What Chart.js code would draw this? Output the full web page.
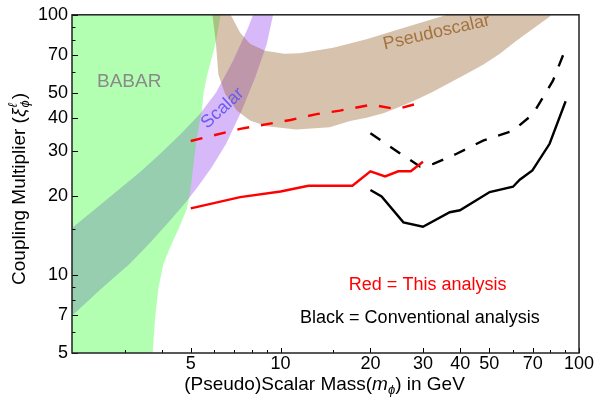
<!DOCTYPE html>
<html>
<head>
<meta charset="utf-8">
<script src="https://cdn.jsdelivr.net/npm/chart.js@4/dist/chart.umd.min.js"></script>
<style>
  html, body { margin: 0; padding: 0; background: #ffffff; }
  #wrap { width: 599px; height: 407px; }
</style>
</head>
<body>
<div id="wrap"><canvas id="c" width="599" height="407"></canvas></div>
<script>
// Limits on the coupling multiplier versus (pseudo)scalar mass in GeV.

// Red = this analysis
const redSolidMass = [5, 7.32, 10, 12.4, 17.4, 20, 22.4, 24.8, 27.3, 30];
const redSolidXi   = [18.0, 19.9, 20.9, 22.0, 22.0, 25.0, 23.9, 25.0, 25.0, 27.2];
const redDashMass  = [5, 7.32, 10.8, 13.2, 15.8, 20.2, 24.5, 30];
const redDashXi    = [32.7, 36.4, 39.4, 41.5, 42.8, 45.1, 43.3, 46.2];

// Black = conventional analysis
const blackSolidMass = [20, 21.8, 25.8, 30, 36.9, 39.9, 50.2, 60.1, 63.3, 69.8, 79.7, 90.2];
const blackSolidXi   = [21.2, 20.0, 15.9, 15.3, 17.4, 17.7, 20.8, 21.8, 23.2, 25.2, 31.9, 46.5];
const blackDashMass  = [20, 24.8, 29.3, 32.5, 38.9, 47.7, 60.1, 70.1, 81.8, 90.7];
const blackDashXi    = [35.0, 29.6, 26.1, 26.7, 29.2, 32.8, 35.8, 41.5, 55.8, 75.3];

// BABAR excluded region (outline, clockwise)
const babarMass = [1.5, 6.51, 6.30, 6.06, 5.67, 5.51, 5.45, 5.24, 5.11, 4.98, 4.85, 4.55, 4.27, 4.05, 3.90, 3.80, 3.73, 3.71, 1.5];
const babarXi   = [130, 123.6, 100, 78.1, 58.3, 49.6, 42.8, 33.8, 26.7, 20.8, 17.9, 15.0, 12.8, 11.0, 8.96, 6.87, 5.04, 4.48, 4];

// Scalar band (upper-left edge up, lower-right edge down)
const scalarMass = [1.8, 2.49, 3.39, 3.95, 4.61, 5.38, 6.08, 6.93, 7.78, 8.09, 8.67,
                    9.83, 9.44, 8.99, 8.22, 7.41, 6.57, 5.88, 5.31, 4.83, 4.27, 3.66, 3.13, 2.49, 1.99, 1.8];
const scalarXi   = [13.7, 18.6, 24.9, 29.2, 34.6, 41.7, 50.2, 66.6, 89.1, 100, 123.6,
                    123.6, 100, 77.2, 57.4, 42.8, 31.9, 25.9, 22.0, 19.1, 16.2, 13.3, 11.05, 8.78, 6.92, 6.24];

// Pseudoscalar band (outer edge left to right, inner edge back)
const pseudoMass = [5.78, 5.91, 6.07, 6.19, 6.52, 7.13, 7.90, 8.99, 11.3, 14.6, 17.1, 19.4, 22.1, 25.1, 28.6,
                    32.4, 36.9, 42.0, 47.7, 54.3, 61.7, 70.1, 79.7, 83.5, 89.5,
                    46.5, 39.9, 36.1, 32.4, 25.1, 19.4, 15.0, 11.6, 10.3, 8.87, 7.90, 7.32, 6.80, 6.65];
const pseudoXi   = [123.6, 100, 78.1, 58.8, 49.6, 42.8, 39.2, 37.3, 36.2, 36.9, 39.0, 40.2, 41.8, 44.3, 47.2,
                    50.6, 54.8, 59.3, 64.3, 70.8, 79.5, 88.4, 98.2, 105.4, 117.3,
                    109.2, 104.5, 100, 96.3, 88.1, 80.5, 74.7, 71.1, 70.8, 72.7, 77.4, 85.3, 100, 113.2];

// Axis ticks
const xTicks  = [3, 4, 5, 6, 7, 8, 9, 10, 15, 20, 30, 40, 50, 60, 70, 80, 90, 100];
const xLabels = [5, 10, 20, 30, 40, 50, 70, 100];
const yTicks  = [5, 6, 7, 8, 9, 10, 15, 20, 30, 40, 50, 60, 70, 80, 90, 100];
const yLabels = [5, 7, 10, 20, 30, 40, 50, 70, 100];

const FONT = '"Liberation Sans", Arial, Helvetica, sans-serif';

function pts(xs, ys) { return xs.map((x, i) => ({ x: x, y: ys[i] })); }

function curve(label, xs, ys, color, dash, order) {
  return {
    label: label, data: pts(xs, ys), showLine: true, fill: false,
    borderColor: color, borderWidth: 2.4, borderDash: dash, borderCapStyle: 'butt',
    pointRadius: 0, tension: 0, order: order
  };
}

function region(label, xs, ys, color, order) {
  return {
    label: label, data: pts(xs, ys), showLine: true, fill: 'shape',
    borderColor: 'rgba(0,0,0,0)', borderWidth: 0, backgroundColor: color,
    pointRadius: 0, tension: 0, order: order
  };
}

// draws a run of text pieces; a piece with 'stack' puts a superscript over a subscript
function richLine(ctx, pieces, cx, baseY) {
  let total = 0;
  pieces.forEach(p => {
    if (p.stack) {
      ctx.font = p.stack[0].f; const w1 = ctx.measureText(p.stack[0].t).width;
      ctx.font = p.stack[1].f; const w2 = ctx.measureText(p.stack[1].t).width;
      p.w = Math.max(w1, w2);
    } else {
      ctx.font = p.f; p.w = ctx.measureText(p.t).width;
    }
    total += p.w + (p.pad || 0);
  });
  let x = cx - total / 2;
  pieces.forEach(p => {
    if (p.stack) {
      p.stack.forEach(s => { ctx.font = s.f; ctx.fillText(s.t, x + (p.pad || 0), baseY + s.dy); });
    } else {
      ctx.font = p.f; ctx.fillText(p.t, x + (p.pad || 0), baseY + (p.dy || 0));
    }
    x += p.w + (p.pad || 0);
  });
}

const framePlugin = {
  id: 'frame',
  afterDatasetsDraw(chart) {
    const ctx = chart.ctx, a = chart.chartArea;
    const xs = chart.scales.x, ys = chart.scales.y;
    ctx.save();

    // inward tick marks
    ctx.strokeStyle = '#000'; ctx.lineWidth = 1;
    xTicks.forEach(v => {
      const px = Math.round(xs.getPixelForValue(v)) + 0.5;
      const len = xLabels.includes(v) ? 5 : 3;
      ctx.beginPath(); ctx.moveTo(px, a.bottom); ctx.lineTo(px, a.bottom - len); ctx.stroke();
    });
    yTicks.forEach(v => {
      const py = Math.round(ys.getPixelForValue(v)) + 0.5;
      const len = yLabels.includes(v) ? 6 : 3.5;
      ctx.beginPath(); ctx.moveTo(a.left, py); ctx.lineTo(a.left + len, py); ctx.stroke();
    });

    // frame
    ctx.strokeStyle = '#222'; ctx.lineWidth = 1.5;
    ctx.strokeRect(a.left, a.top, a.right - a.left, a.bottom - a.top);

    // region and curve labels
    ctx.textAlign = 'center'; ctx.textBaseline = 'middle';
    ctx.fillStyle = '#8a8a8a'; ctx.font = '19px ' + FONT;
    ctx.fillText('BABAR', xs.getPixelForValue(3.11), ys.getPixelForValue(55.3));

    ctx.save();
    ctx.translate(xs.getPixelForValue(6.39), ys.getPixelForValue(43.7));
    ctx.rotate(-43 * Math.PI / 180);
    ctx.fillStyle = '#6a5cf0'; ctx.font = '18px ' + FONT;
    ctx.fillText('Scalar', 0, 0);
    ctx.restore();

    ctx.save();
    ctx.translate(xs.getPixelForValue(33.3), ys.getPixelForValue(85.5));
    ctx.rotate(-13 * Math.PI / 180);
    ctx.fillStyle = '#a4733f'; ctx.font = '18px ' + FONT;
    ctx.fillText('Pseudoscalar', 0, 0);
    ctx.restore();

    ctx.font = '18px ' + FONT;
    ctx.fillStyle = '#ff0000';
    ctx.fillText('Red = This analysis', xs.getPixelForValue(31.1), ys.getPixelForValue(9.1));
    ctx.fillStyle = '#000000';
    ctx.fillText('Black = Conventional analysis', xs.getPixelForValue(29.3), ys.getPixelForValue(6.79));

    // axis titles
    ctx.textAlign = 'left'; ctx.textBaseline = 'alphabetic';
    ctx.fillStyle = '#000';
    const reg = '19px ' + FONT, ital = 'italic 19px ' + FONT, small = 'italic 13px ' + FONT;
    richLine(ctx, [
      { t: '(Pseudo)Scalar Mass(', f: reg },
      { t: 'm', f: ital },
      { t: '\u03D5', f: small, dy: 4 },
      { t: ') in GeV', f: reg }
    ], (a.left + a.right) / 2 - 1, 390);

    ctx.save();
    ctx.translate(25, 189);
    ctx.rotate(-Math.PI / 2);
    richLine(ctx, [
      { t: 'Coupling Multiplier (', f: reg },
      { t: '\u03BE', f: ital },
      { stack: [{ t: '\u2113', f: small, dy: -8 }, { t: '\u03D5', f: small, dy: 4 }], pad: 1 },
      { t: ')', f: reg, pad: 1 }
    ], 0, 0);
    ctx.restore();

    ctx.restore();
  }
};

new Chart(document.getElementById('c'), {
  type: 'scatter',
  data: {
    datasets: [
      curve('This analysis (solid)', redSolidMass, redSolidXi, '#ff0000', [], 0),
      curve('This analysis (dashed)', redDashMass, redDashXi, '#ff0000', [12, 12], 1),
      curve('Conventional (solid)', blackSolidMass, blackSolidXi, '#000000', [], 2),
      curve('Conventional (dashed)', blackDashMass, blackDashXi, '#000000', [12, 12], 3),
      region('Pseudoscalar', pseudoMass, pseudoXi, 'rgba(153,102,51,0.4)', 5),
      region('BABAR', babarMass, babarXi, 'rgba(0,255,0,0.3)', 6),
      region('Scalar', scalarMass, scalarXi, 'rgba(122,22,238,0.3)', 7)
    ]
  },
  options: {
    responsive: false,
    animation: false,
    devicePixelRatio: 1,
    layout: { padding: { left: 0, right: 20, top: 14, bottom: 0 } },
    plugins: { legend: { display: false }, tooltip: { enabled: false } },
    scales: {
      x: {
        type: 'logarithmic', position: 'bottom', min: 2, max: 100,
        afterBuildTicks: s => { s.ticks = xTicks.map(v => ({ value: v })); },
        afterFit: s => { s.height = 54; },
        grid: { display: false, drawTicks: false },
        border: { display: false },
        ticks: {
          autoSkip: false, maxRotation: 0, padding: 0, color: '#000',
          font: { family: FONT, size: 18 },
          callback: v => xLabels.includes(v) ? String(v) : ''
        }
      },
      y: {
        type: 'logarithmic', position: 'left', min: 5, max: 100,
        afterBuildTicks: s => { s.ticks = yTicks.map(v => ({ value: v })); },
        afterFit: s => { s.width = 72; },
        grid: { display: false, drawTicks: false },
        border: { display: false },
        ticks: {
          autoSkip: false, padding: 4, color: '#000',
          font: { family: FONT, size: 18 },
          callback: v => yLabels.includes(v) ? String(v) : ''
        }
      }
    }
  },
  plugins: [framePlugin]
});
</script>
</body>
</html>
